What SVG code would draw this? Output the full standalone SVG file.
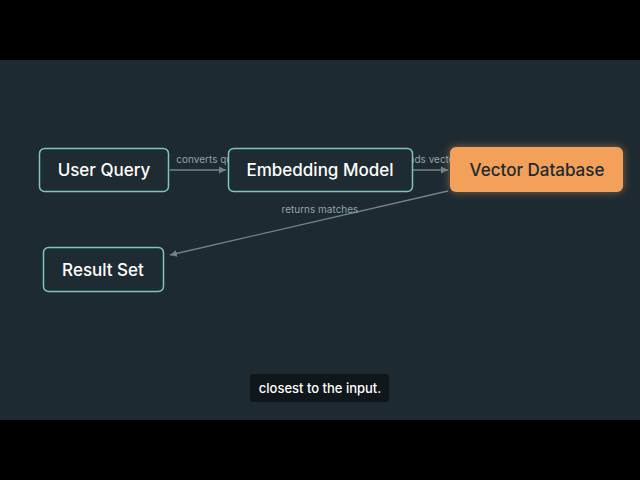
<svg xmlns="http://www.w3.org/2000/svg" width="640" height="480" viewBox="0 0 640 480">
<style>
.n{fill:#1f2b32;stroke:#7fc4bf;stroke-width:1.5}
.t{font-family:"Inter","Liberation Sans",sans-serif;font-size:17px;fill:#ffffff;text-anchor:middle;font-weight:500}
.e{stroke:#6f8488;stroke-width:1.3;fill:none;marker-end:url(#a)}
.l{font-family:"Inter","Liberation Sans",sans-serif;font-size:10px;fill:#8fa3a6;text-anchor:middle}
</style>
<defs>
<marker id="a" markerWidth="8" markerHeight="8" refX="7" refY="4" orient="auto" markerUnits="userSpaceOnUse"><path d="M0,0.5 L7,4 L0,7.5Z" fill="#6f8488"/></marker>
<filter id="g" x="-20%" y="-40%" width="140%" height="180%"><feGaussianBlur stdDeviation="4"/></filter>
</defs>
<rect width="640" height="480" fill="#1e2a31"/>
<rect width="640" height="60" fill="#000"/>
<rect y="420" width="640" height="60" fill="#000"/>
<g id="edges">
<line class="e" x1="170" y1="170" x2="226" y2="170"/>
<line class="e" x1="413" y1="170" x2="448" y2="170"/>
<line class="e" x1="448" y1="191" x2="170" y2="255"/>
<text class="l" x="212" y="163">converts query</text>
<text class="l" x="428" y="163">sends vector</text>
<text class="l" x="320" y="213">returns matches</text>
</g>
<g id="user-query"><rect class="n" x="39.5" y="148.5" width="129" height="43" rx="5"/><text class="t" x="104" y="176">User Query</text></g>
<g id="embedding-model"><rect class="n" x="228.5" y="148.5" width="184" height="43" rx="5"/><text class="t" x="320" y="176">Embedding Model</text></g>
<g id="vector-database"><rect x="450" y="147" width="173" height="45" rx="6" fill="#f2a05a" opacity="0.5" filter="url(#g)"/><rect x="450" y="147" width="173" height="45" rx="6" fill="#f2a05a"/><text class="t" x="537" y="176" fill="#1e2a31" style="fill:#1e2a31">Vector Database</text></g>
<g id="result-set"><rect class="n" x="43.5" y="247.5" width="120" height="44" rx="5"/><text class="t" x="103" y="276">Result Set</text></g>
<g id="caption"><rect x="250" y="374" width="139" height="28" rx="3" fill="#10171b"/><text x="320" y="393" font-family="Inter,'Liberation Sans',sans-serif" font-size="13" fill="#fff" text-anchor="middle" font-weight="500">closest to the input.</text></g>
</svg>
